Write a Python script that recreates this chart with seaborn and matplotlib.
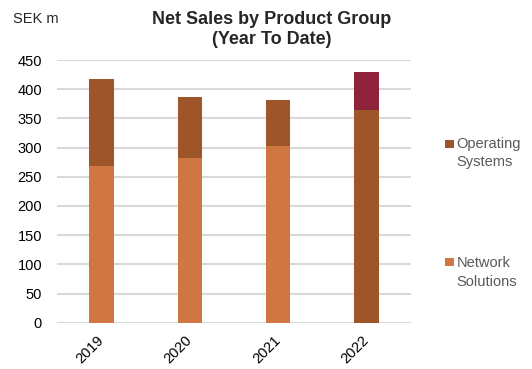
import matplotlib
matplotlib.use("Agg")
import matplotlib.pyplot as plt
import seaborn as sns
import pandas as pd
import numpy as np
from matplotlib.patches import Rectangle

years = ["2019", "2020", "2021", "2022"]
network_solutions = [268, 282, 302, 0]
operating_systems = [150, 105, 79, 364]
other = [0, 0, 0, 65]
yticks = [0, 50, 100, 150, 200, 250, 300, 350, 400, 450]

c_net = "#D07640"
c_os = "#9E5529"
c_other = "#8E233B"

sns.set_theme(style="white")
plt.rcParams["font.family"] = ["Liberation Sans", "DejaVu Sans"]

W, H = 532, 369
fig = plt.figure(figsize=(W / 100, H / 100), dpi=100)
ax = fig.add_axes([57.3 / W, 1 - 322.7 / H, (410.7 - 57.3) / W, (322.7 - 60) / H])

net = np.array(network_solutions)
os_ = np.array(operating_systems)
oth = np.array(other)

df = pd.DataFrame({
    "year": years,
    "top": net + os_ + oth,
    "mid": net + os_,
    "low": net,
})

for col, color in [("top", c_other), ("mid", c_os), ("low", c_net)]:
    sns.barplot(data=df, x="year", y=col, color=color, width=0.276,
                ax=ax, saturation=1, linewidth=0, zorder=3)

ax.set_ylim(0, 450)
ax.set_xlim(-0.5, 3.5)
ax.set_yticks(yticks)
ax.set_yticklabels([str(v) for v in yticks])
ax.yaxis.grid(True, color="#D9D9D9", linewidth=1.5, zorder=0)
ax.set_axisbelow(True)
for s in ax.spines.values():
    s.set_visible(False)
ax.set_xlabel("")
ax.set_ylabel("")
ax.tick_params(axis="y", length=0, pad=11, labelsize=10.5, labelcolor="#000000")
ax.tick_params(axis="x", length=0, pad=11, labelsize=10.5, labelcolor="#000000")
for lbl in ax.get_xticklabels():
    lbl.set_rotation(45)
    lbl.set_rotation_mode("anchor")
    lbl.set_horizontalalignment("right")
    lbl.set_verticalalignment("center")

fig.text(272 / W, 1 - 24 / H, "Net Sales by Product Group", ha="center",
         va="baseline", fontsize=13, fontweight="bold")
fig.text(272 / W, 1 - 43.5 / H, "(Year To Date)", ha="center",
         va="baseline", fontsize=13, fontweight="bold")
fig.text(12.7 / W, 1 - 23.3 / H, "SEK m", ha="left", va="baseline", fontsize=10.5)

# legend
legend_items = [
    (c_os, ["Operating", "Systems"], 140, [148.3, 166.5]),
    (c_net, ["Network", "Solutions"], 258, [267.3, 285.7]),
]
for color, lines, sq_top, baselines in legend_items:
    fig.patches.append(Rectangle((445 / W, 1 - (sq_top + 8) / H), 9 / W, 8 / H,
                                 transform=fig.transFigure, facecolor=color,
                                 edgecolor="none"))
    for line, bl in zip(lines, baselines):
        fig.text(456.7 / W, 1 - bl / H, line, ha="left", va="baseline",
                 fontsize=10.5, color="#595959")

fig.savefig("out.png", dpi=100)
